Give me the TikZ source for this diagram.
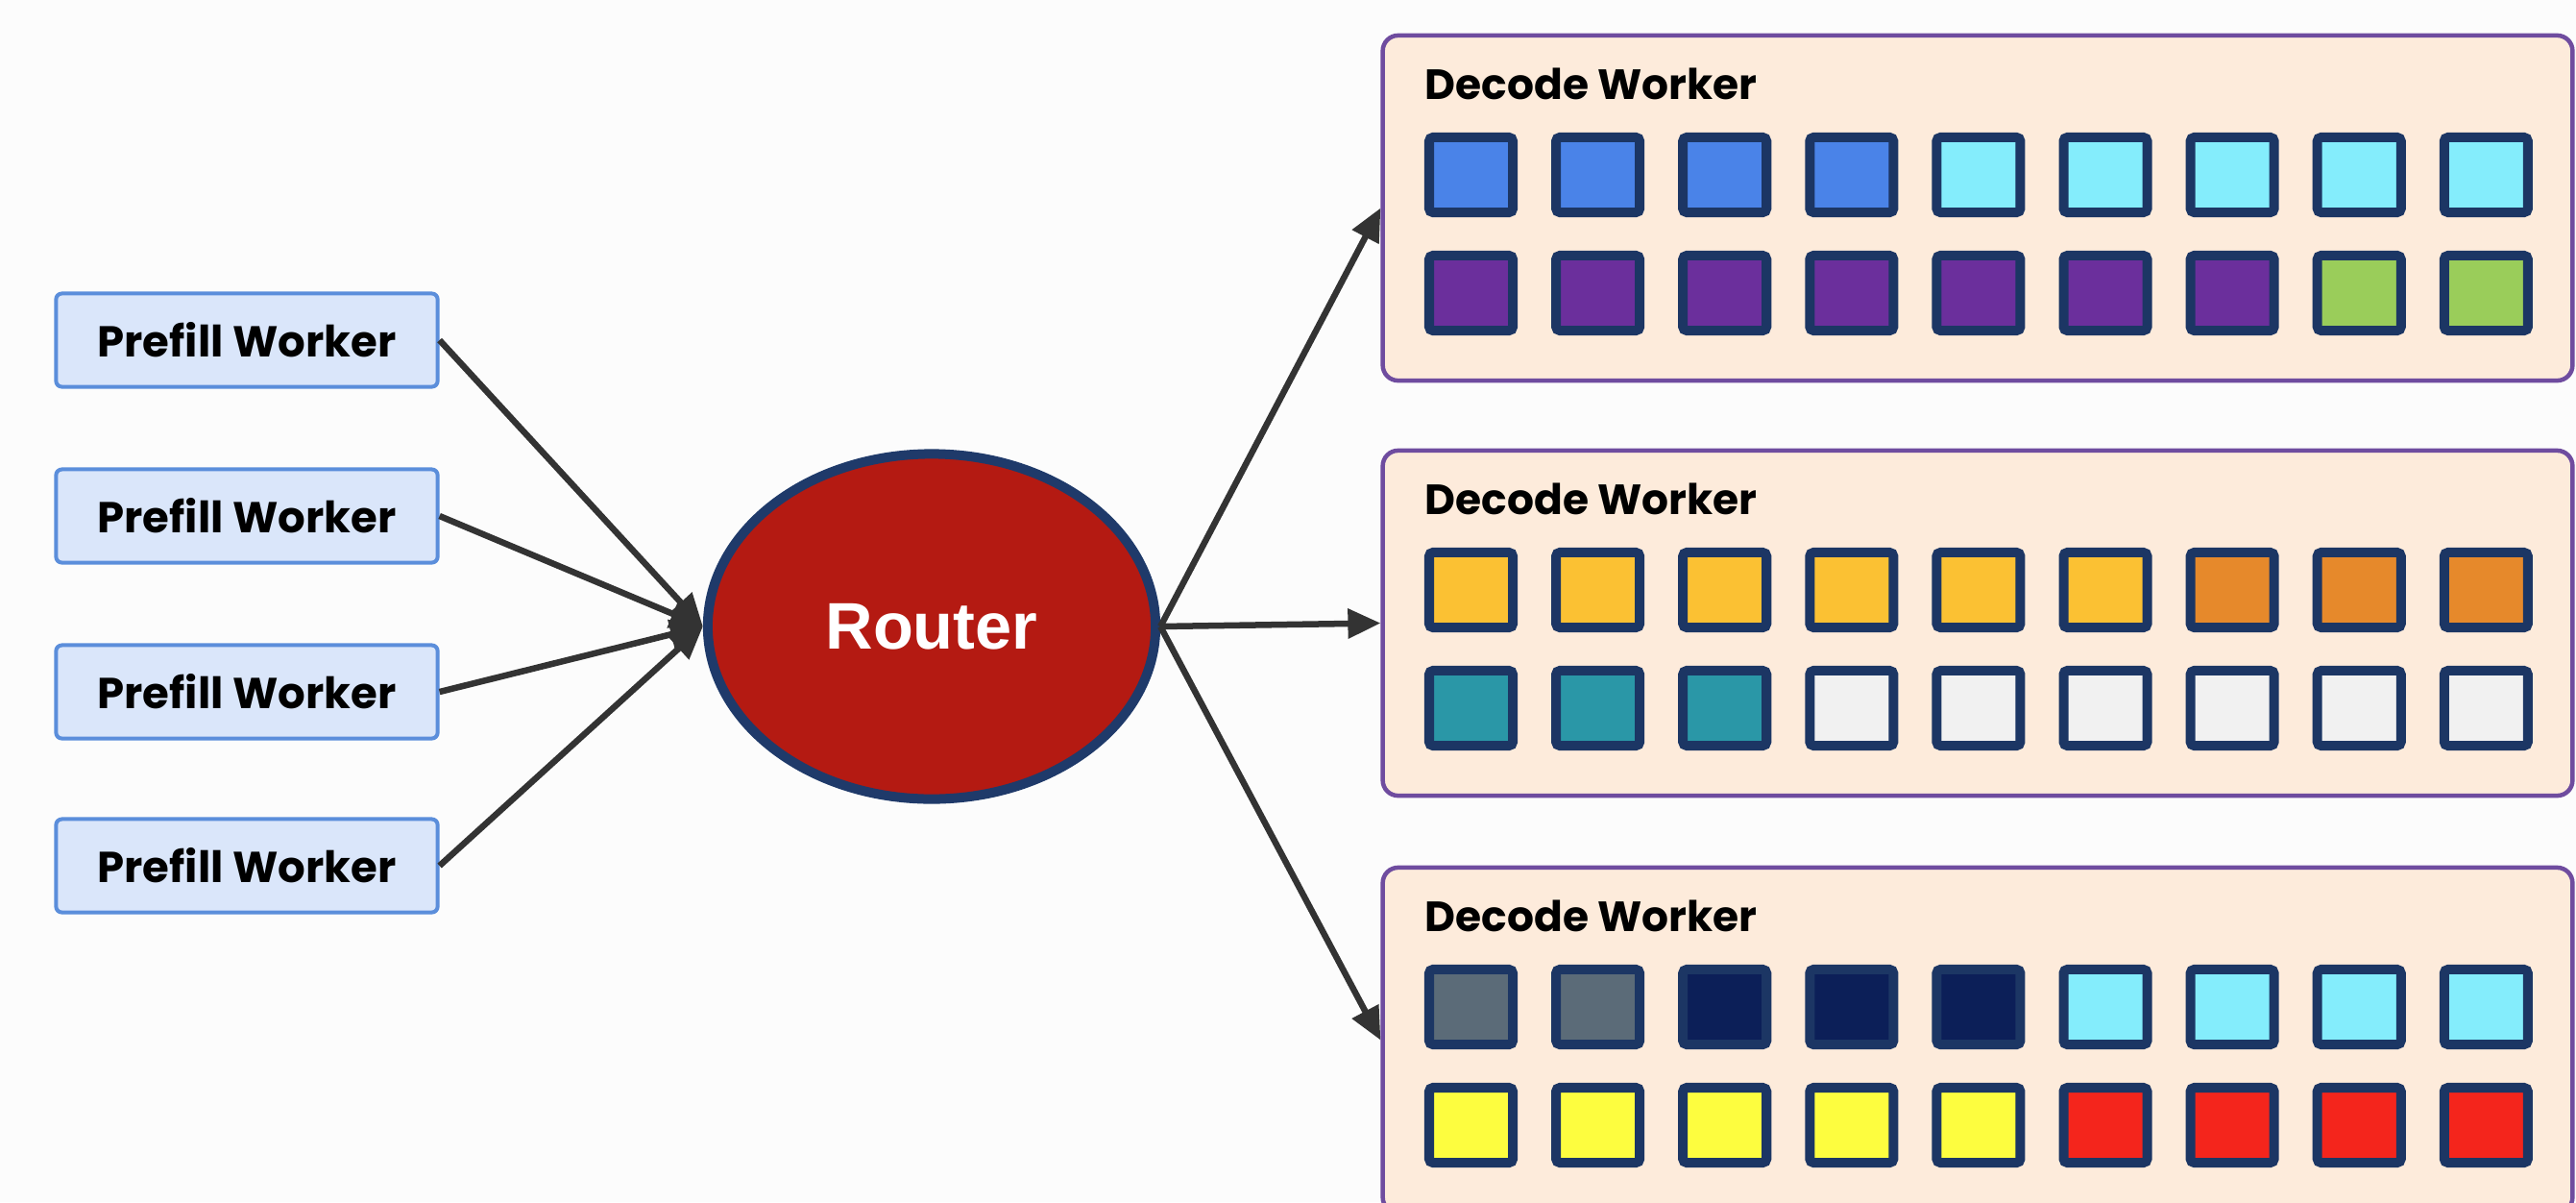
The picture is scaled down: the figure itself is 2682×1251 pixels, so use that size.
\documentclass[tikz,border=0pt]{standalone}
\usepackage{fontspec}
\setmainfont{Poppins}
\newfontfamily\routerfont{Liberation Sans}
\usetikzlibrary{arrows.meta,shapes.geometric}
\definecolor{bgc}{HTML}{FCFCFC}
\definecolor{pfill}{HTML}{DAE6FA}
\definecolor{pdraw}{HTML}{5B8EDB}
\definecolor{rfill}{HTML}{B41A12}
\definecolor{rdraw}{HTML}{1F3A6A}
\definecolor{dfill}{HTML}{FDEBDB}
\definecolor{ddraw}{HTML}{6F4C9F}
\definecolor{cellborder}{HTML}{1C3664}
\definecolor{arrowc}{HTML}{333333}
\definecolor{cblue}{HTML}{4A83E8}
\definecolor{ccyan}{HTML}{84EDFC}
\definecolor{cpurple}{HTML}{6B2F9C}
\definecolor{cgreen}{HTML}{9ACD5A}
\definecolor{camber}{HTML}{FBC133}
\definecolor{corange}{HTML}{E6892B}
\definecolor{cteal}{HTML}{2A97A7}
\definecolor{cgrey}{HTML}{F1F1F1}
\definecolor{cslate}{HTML}{5B6B78}
\definecolor{cnavy}{HTML}{0C1F58}
\definecolor{cyellow}{HTML}{FDFD3F}
\definecolor{cred}{HTML}{F4251C}
\begin{document}
\begin{tikzpicture}[x=0.01cm,y=-0.01cm,
  prefill/.style={draw=pdraw,fill=pfill,line width=0.04cm,rounded corners=0.06cm,
    minimum width=3.97cm,minimum height=0.97cm,inner sep=0pt,
    font=\fontsize{12.8}{15}\selectfont\bfseries},
  router/.style={ellipse,draw=rdraw,fill=rfill,line width=0.1cm,
    minimum width=4.66cm,minimum height=3.59cm,inner sep=0pt,
    text=white,font=\routerfont\fontsize{19.5}{22}\selectfont\bfseries},
  decodebox/.style={draw=ddraw,fill=dfill,line width=0.045cm,rounded corners=0.16cm,
    minimum width=12.38cm,minimum height=3.59cm,inner sep=0pt},
  decodelabel/.style={anchor=base west,inner sep=0pt,font=\fontsize{12.5}{15}\selectfont\bfseries},
  cell/.style={draw=cellborder,line width=0.1cm,rounded corners=0.04cm,
    minimum width=0.87cm,minimum height=0.78cm,inner sep=0pt},
  conn/.style={draw=arrowc,line width=0.065cm,-{Triangle[length=0.34cm,width=0.3cm]}}
]
\useasboundingbox (0,0) rectangle (2682,1251);
\clip (0,0) rectangle (2682,1251);
\fill[bgc] (0,0) rectangle (2682,1251);

% prefill workers
\node[prefill] (p1) at (257,354) {Prefill Worker};
\node[prefill] (p2) at (257,537) {Prefill Worker};
\node[prefill] (p3) at (257,720) {Prefill Worker};
\node[prefill] (p4) at (257,901) {Prefill Worker};

% router
\node[router] (r) at (970,652) {Router};

% decode boxes
\node[decodebox] (d1) at (2059,216.5) {};
\node[decodebox] (d2) at (2059,648.5) {};
\node[decodebox] (d3) at (2059,1082.5) {};
\node[decodelabel] (l1) at (1483,103) {Decode Worker};
\node[decodelabel] (l2) at (1483,535) {Decode Worker};
\node[decodelabel] (l3) at (1483,969) {Decode Worker};

% cells
\foreach \c [count=\i] in {cblue,cblue,cblue,cblue,ccyan,ccyan,ccyan,ccyan,ccyan}
  \node[cell,fill=\c] (d1a\i) at ({1531.5+132.1*(\i-1)},182) {};
\foreach \c [count=\i] in {cpurple,cpurple,cpurple,cpurple,cpurple,cpurple,cpurple,cgreen,cgreen}
  \node[cell,fill=\c] (d1b\i) at ({1531.5+132.1*(\i-1)},305) {};
\foreach \c [count=\i] in {camber,camber,camber,camber,camber,camber,corange,corange,corange}
  \node[cell,fill=\c] (d2a\i) at ({1531.5+132.1*(\i-1)},614) {};
\foreach \c [count=\i] in {cteal,cteal,cteal,cgrey,cgrey,cgrey,cgrey,cgrey,cgrey}
  \node[cell,fill=\c] (d2b\i) at ({1531.5+132.1*(\i-1)},737) {};
\foreach \c [count=\i] in {cslate,cslate,cnavy,cnavy,cnavy,ccyan,ccyan,ccyan,ccyan}
  \node[cell,fill=\c] (d3a\i) at ({1531.5+132.1*(\i-1)},1048) {};
\foreach \c [count=\i] in {cyellow,cyellow,cyellow,cyellow,cyellow,cred,cred,cred,cred}
  \node[cell,fill=\c] (d3b\i) at ({1531.5+132.1*(\i-1)},1171) {};

% connectors
\foreach \p in {p1,p2,p3,p4}
  \draw[conn] (\p.east) -- (r.west);
\draw[conn] (r.east) -- (d1.west);
\draw[conn] (r.east) -- (d2.west);
\draw[conn] (r.east) -- (d3.west);
\end{tikzpicture}
\end{document}
